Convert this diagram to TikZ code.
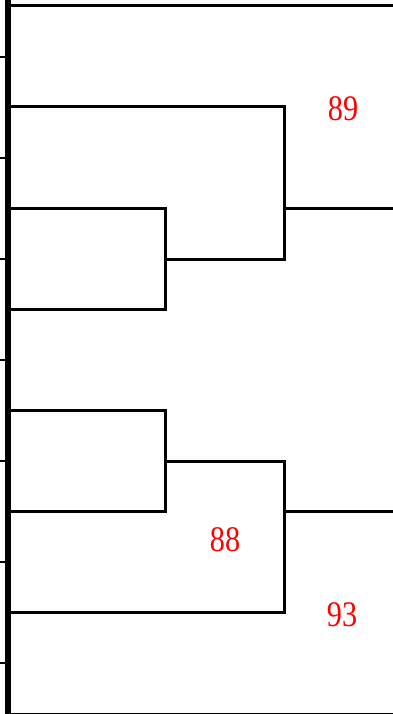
\documentclass[tikz,border=0pt]{standalone}
\usepackage{fontspec}
\setmainfont{Liberation Serif}
\begin{document}
\begin{tikzpicture}[x=1pt,y=-1pt,
  branch/.style={line width=3pt,black},
  axis/.style={line width=6pt,black},
  tick/.style={line width=2.5pt,black},
  lbl/.style={text=red,font=\fontsize{36}{36}\selectfont,inner sep=0pt}]
\useasboundingbox (0,0) rectangle (393,714);
% axis
\draw[axis] (8,-5) -- (8,720);
\foreach \t in {57,158,259,360,461,562,663} \draw[tick] (0,\t) -- (8,\t);
% leaves
\coordinate (l1) at (11,6);
\coordinate (l2) at (11,107);
\coordinate (l3) at (11,208);
\coordinate (l4) at (11,309);
\coordinate (l5) at (11,410);
\coordinate (l6) at (11,511);
\coordinate (l7) at (11,612);
\coordinate (l8) at (11,714);
% joins
\coordinate (a) at (165,259);
\coordinate (b) at (284,208);
\coordinate (c) at (165,461);
\coordinate (d) at (284,511);
\coordinate (e1) at (396,6);
\coordinate (e2) at (396,208);
\coordinate (e3) at (396,511);
\coordinate (e4) at (396,714);
\draw[branch] (l1) -- (e1);
\draw[branch] (l8) -- (e4);
\draw[branch] (l3) -| (a) |- (l4);
\draw[branch] (l2) -| (b |- a) -- (a);
\draw[branch] (b) -- (e2);
\draw[branch] (l5) -| (c) |- (l6);
\draw[branch] (l7) -| (d |- c) -- (c);
\draw[branch] (d) -- (e3);
% labels
\node[lbl] (n89) at (343,109) {\scalebox{0.84}[1]{89}};
\node[lbl] (n88) at (225,540) {\scalebox{0.84}[1]{88}};
\node[lbl] (n93) at (342,615) {\scalebox{0.84}[1]{93}};
\end{tikzpicture}
\end{document}
